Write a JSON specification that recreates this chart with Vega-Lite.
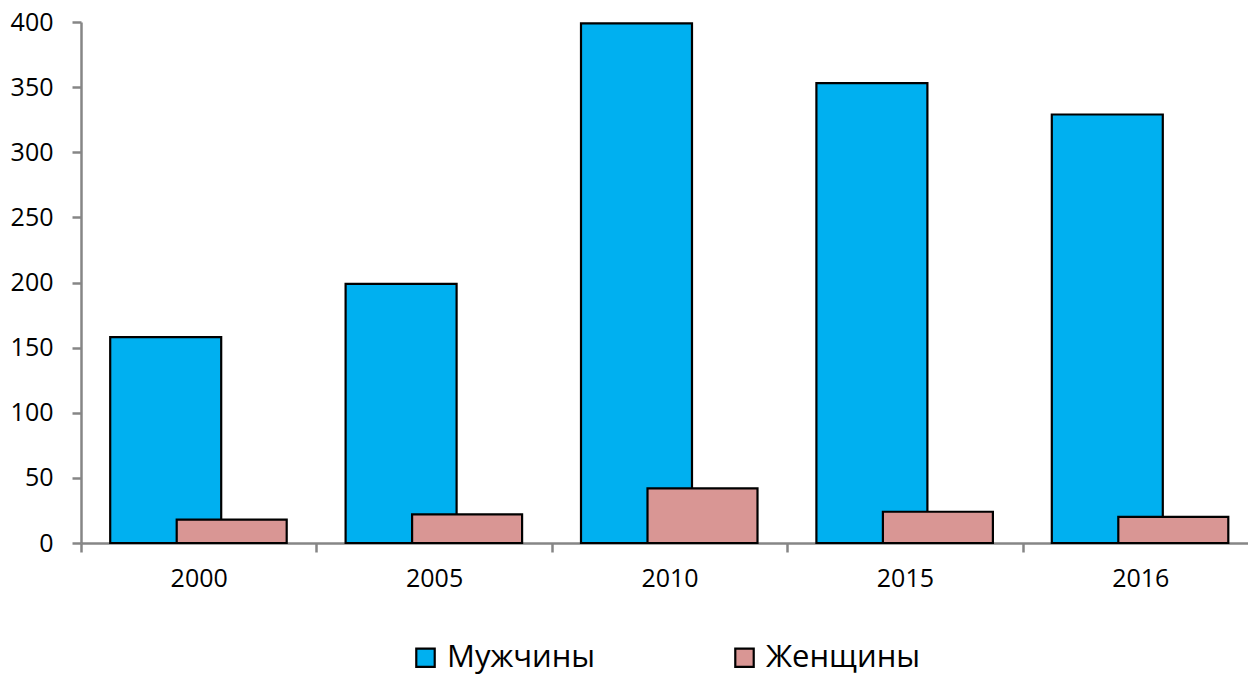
{
  "$schema": "https://vega.github.io/schema/vega-lite/v6.json",
  "autosize": {"type": "none"},
  "width": 1167,
  "height": 521,
  "padding": {"left": 81, "top": 22, "right": 0, "bottom": 132},
  "background": "white",
  "config": {
    "view": {"stroke": null},
    "font": "Open Sans",
    "legend": {"symbolStrokeColor": "black", "symbolStrokeWidth": 2.2}
  },
  "data": {
    "values": [
      {"year": "2000", "sex": "Мужчины", "value": 158},
      {"year": "2005", "sex": "Мужчины", "value": 199},
      {"year": "2010", "sex": "Мужчины", "value": 399},
      {"year": "2015", "sex": "Мужчины", "value": 353},
      {"year": "2016", "sex": "Мужчины", "value": 329},
      {"year": "2000", "sex": "Женщины", "value": 18},
      {"year": "2005", "sex": "Женщины", "value": 22},
      {"year": "2010", "sex": "Женщины", "value": 42},
      {"year": "2015", "sex": "Женщины", "value": 24},
      {"year": "2016", "sex": "Женщины", "value": 20}
    ]
  },
  "encoding": {
    "x": {
      "field": "year", "type": "nominal", "sort": null, "title": null,
      "scale": {"paddingInner": 0, "paddingOuter": 0, "range": [0, 1177]},
      "axis": {
        "labelAngle": 0, "labelFontSize": 25, "labelColor": "black", "labelFont": "Open Sans",
        "domainColor": "#868686", "domainWidth": 2.5,
        "tickColor": "#868686", "tickWidth": 2.5, "tickSize": 9, "tickBand": "extent",
        "labelPadding": 14, "grid": false
      }
    },
    "y": {
      "field": "value", "type": "quantitative", "title": null,
      "scale": {"domain": [0, 400], "nice": false},
      "axis": {
        "values": [0, 50, 100, 150, 200, 250, 300, 350, 400],
        "labelFontSize": 25, "labelColor": "black", "labelFont": "Open Sans",
        "domainColor": "#868686", "domainWidth": 2.5,
        "tickColor": "#868686", "tickWidth": 2.5, "tickSize": 9,
        "labelPadding": 19, "grid": false
      }
    },
    "stroke": {"value": "black"},
    "color": {
      "field": "sex", "type": "nominal",
      "scale": {"domain": ["Мужчины", "Женщины"], "range": ["#00B0F0", "#D99694"]},
      "legend": {
        "title": null, "orient": "none", "direction": "horizontal",
        "legendX": 329, "legendY": 620,
        "symbolType": "square", "symbolSize": 340,
        "symbolStrokeColor": "black", "symbolStrokeWidth": 2.2, "symbolOpacity": 1,
        "labelFontSize": 31, "labelColor": "black", "labelFont": "Open Sans",
        "labelOffset": 6, "columnPadding": 133, "padding": 0,
        "encode": {
          "symbols": {"update": {"stroke": {"value": "black"}, "strokeWidth": {"value": 2.2}}}
        }
      }
    }
  },
  "layer": [
    {
      "transform": [{"filter": "datum.sex === 'Мужчины'"}],
      "mark": {"type": "bar", "width": 111, "xOffset": -33, "stroke": "black", "strokeWidth": 2.2, "opacity": 1}
    },
    {
      "transform": [{"filter": "datum.sex === 'Женщины'"}],
      "mark": {"type": "bar", "width": 110, "xOffset": 33, "stroke": "black", "strokeWidth": 2.2, "opacity": 1}
    }
  ]
}
